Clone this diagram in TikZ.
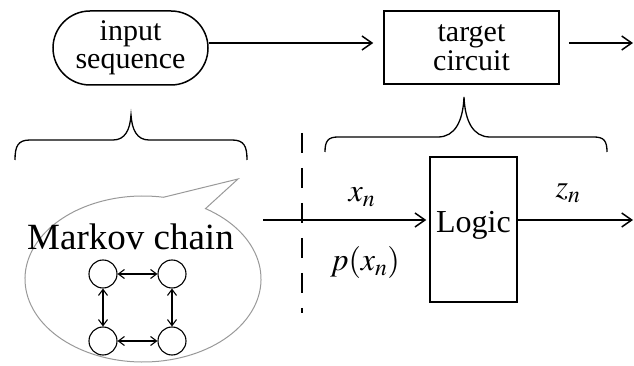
\documentclass[tikz,border=0pt]{standalone}
\usepackage{amsmath}
\usepackage{mathptmx}
\usepackage{fontspec}
\setmainfont{Liberation Serif}
\usetikzlibrary{arrows.meta,shapes.misc}

\tikzset{
  arr/.style={-{Straight Barb[length=10pt,width=14pt]},line width=1.5pt},
  marr/.style={{Straight Barb[length=6pt,width=9pt]}-{Straight Barb[length=6pt,width=9pt]},line width=1.1pt},
  state/.style={circle,draw,line width=1.1pt,minimum size=28pt,inner sep=0pt},
  lbl/.style={font=\fontsize{32}{32}\selectfont,inner sep=0pt},
  twoline/.style={align=center,inner sep=0pt,font=\fontsize{30}{28.5}\selectfont}
}

\begin{document}
\begin{tikzpicture}[x=1pt,y=1pt]
\useasboundingbox (0,0) rectangle (634,366);

\node[rounded rectangle,draw,line width=1.5pt,minimum width=155pt,minimum height=74pt,twoline] (input) at (130.5,318) {input\\sequence};
\node[rectangle,draw,line width=1.5pt,minimum width=175pt,minimum height=73pt,twoline] (target) at (471.5,318.5) {target\\circuit};
\coordinate (out1) at (633,323);
\draw[arr,shorten >=10pt] ([yshift=5pt]input.east) -- ([yshift=4.5pt]target.west);
\draw[arr,shorten <=9pt] ([yshift=4.5pt]target.east) -- (out1);

% braces
\draw[line width=1.3pt] (15,206) .. controls (15,220) and (18,226) .. (30,226) -- (113,226)
  .. controls (125,226) and (130,236) .. (131,251) .. controls (132,236) and (137,226) .. (149,226)
  -- (232,226) .. controls (244,226) and (247,220) .. (247,206);
\draw[line width=1.3pt] (325,214) .. controls (325,225) and (328,229) .. (338,229) -- (438,229)
  .. controls (455,229) and (463,245) .. (464,269) .. controls (465,245) and (473,229) .. (490,229)
  -- (594,229) .. controls (604,229) and (607,225) .. (607,214);

% speech bubble
\draw[black!40,line width=1pt] (238,187) -- ([shift={(143,87)}]58:118 and 83)
  arc[start angle=58,end angle=-280,x radius=118,y radius=83] -- cycle;

\node[font=\fontsize{37}{37}\selectfont,inner sep=0pt] (mc) at (130.5,129) {Markov chain};
\node[state] (s1) at (103,92) {};
\node[state] (s2) at (172,92) {};
\node[state] (s3) at (103,25) {};
\node[state] (s4) at (172,25) {};
\draw[marr] (s1) -- (s2);
\draw[marr] (s3) -- (s4);
\draw[marr] (s1) -- (s3);
\draw[marr] (s2) -- (s4);

\draw[line width=1.3pt,dash pattern=on 20pt off 15pt] (302,233) -- (302,53);

\node[rectangle,draw,line width=1.5pt,minimum width=87pt,minimum height=145pt,inner sep=0pt] (logic) at (473.5,136.5) {};
\node[font=\fontsize{32}{32}\selectfont,inner sep=0pt] (ltext) at (473.5,141) {Logic};
\coordinate (mcout) at (263,146);
\coordinate (out2) at (633,146);
\draw[arr,shorten >=3pt] (mcout) -- ([yshift=9.5pt]logic.west);
\draw[arr] ([yshift=9.5pt]logic.east) -- (out2);

\node[lbl] (xn) at (362,169) {$x_n$};
\node[lbl] (pxn) at (365,103) {$p(x_n)$};
\node[lbl] (zn) at (568,173) {$z_n$};
\end{tikzpicture}
\end{document}
